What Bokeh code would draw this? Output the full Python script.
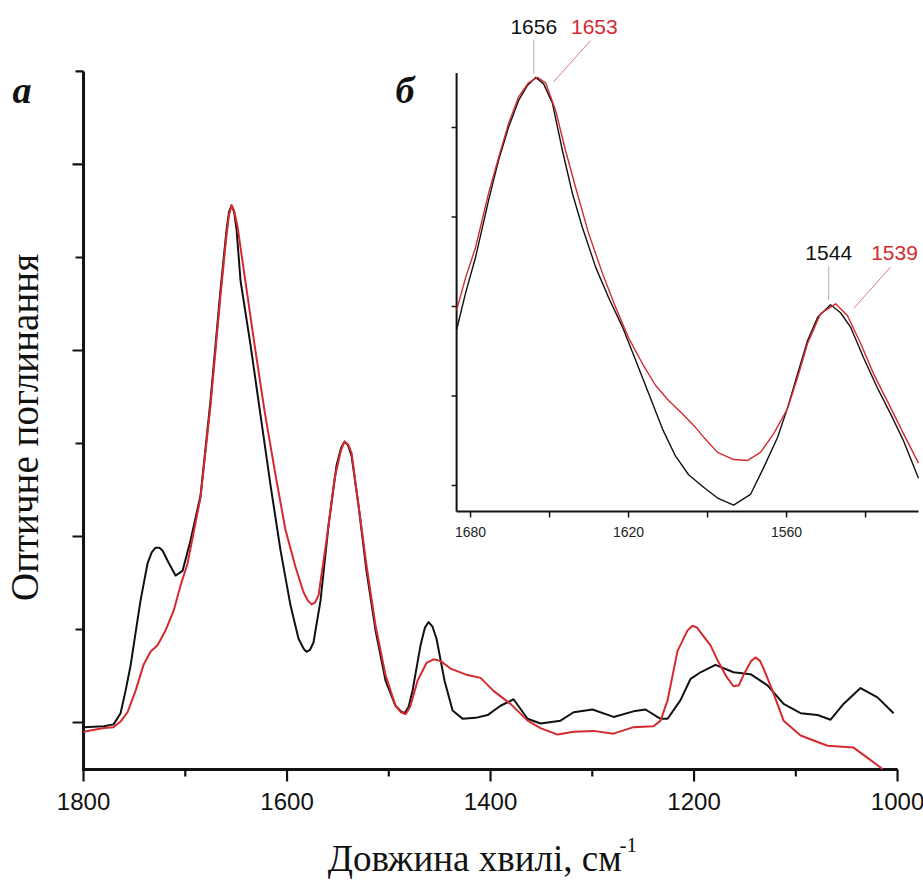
import math
from bokeh.plotting import figure
from bokeh.models import Range1d
from bokeh.core.properties import value
from bokeh.embed import file_html
from bokeh.resources import INLINE

# ---------------- main spectra (a) ----------------
wn_black = [1800, 1780, 1770.5, 1763.6, 1758.7, 1753.8, 1748.9, 1744, 1737.1, 1733, 1729.2,
            1725.5, 1722.4, 1716.5, 1709.6, 1702.7, 1694.8, 1685, 1675.2, 1665.4, 1659.5, 1657,
            1654.5, 1652, 1649.6, 1645.7, 1635.9, 1626, 1616.2, 1606.4, 1596.6, 1588.7, 1583.5,
            1580.8, 1577.5, 1574, 1567.1, 1559.2, 1551.4, 1547, 1543.5, 1540, 1536.6, 1529.7,
            1521.9, 1513, 1503.2, 1493.4, 1488, 1484.5, 1480.5, 1476.7, 1468.8, 1464.5, 1460.9,
            1457, 1453.1, 1445.2, 1437.3, 1427.5, 1414.7, 1402.9, 1390.2, 1377.4, 1363.6, 1350.9,
            1331.2, 1318.4, 1299.8, 1279.1, 1259.5, 1247.7, 1232.9, 1226, 1213.3, 1203.4,
            1193.6, 1178.9, 1161.2, 1144.5, 1127.8, 1112, 1095.3, 1078.6, 1065.8, 1053.1,
            1036.4, 1019.7, 1003.9]
abs_black = [-0.05, -0.04, -0.02, 0.10, 0.34, 0.61, 0.96, 1.31, 1.71, 1.83, 1.88,
             1.88, 1.85, 1.72, 1.58, 1.63, 1.96, 2.44, 3.46, 4.65, 5.29, 5.49,
             5.56, 5.49, 5.30, 4.75, 4.06, 3.30, 2.55, 1.85, 1.26, 0.90, 0.79,
             0.76, 0.78, 0.86, 1.31, 2.12, 2.76, 2.95, 3.02, 2.98, 2.87, 2.33,
             1.63, 0.99, 0.45, 0.18, 0.12, 0.10, 0.17, 0.34, 0.83, 1.02, 1.08,
             1.03, 0.90, 0.45, 0.13, 0.04, 0.05, 0.08, 0.18, 0.25, 0.04, -0.01,
             0.02, 0.11, 0.14, 0.06, 0.12, 0.14, 0.04, 0.04, 0.24, 0.47,
             0.54, 0.62, 0.54, 0.52, 0.40, 0.20, 0.10, 0.08, 0.03, 0.20,
             0.37, 0.27, 0.10]

wn_red = [1800, 1780, 1770.5, 1763.6, 1756.8, 1748.9, 1741, 1734.2, 1727.3, 1719.4,
          1711.5, 1704.7, 1697.8, 1689.9, 1685, 1675.2, 1665.4, 1659.5, 1657, 1654.5, 1652,
          1648.6, 1641.8, 1631.9, 1622.1, 1611.3, 1601.5, 1591.6, 1583.8, 1579.5, 1575.9,
          1572.5, 1569, 1561.2, 1553.3, 1547, 1543.5, 1540, 1536.6, 1529.7, 1521.9, 1513,
          1503.2, 1493.4, 1488, 1483.5, 1479, 1471.7, 1463, 1456, 1449, 1439.3, 1422.6,
          1409.8, 1397.1, 1380.4, 1363.6, 1350.9, 1334.1, 1318.4, 1298.8, 1279.1, 1259.5,
          1239.8, 1232.9, 1226, 1216.2, 1206.4, 1201.5, 1197, 1193.6, 1183.8, 1176.9, 1168,
          1161.2, 1156, 1151.4, 1144, 1139.6, 1135, 1131.7, 1122.8, 1112, 1095.3,
          1068.8, 1043.2, 1029.5, 1014.7]
abs_red = [-0.10, -0.06, -0.05, 0.01, 0.11, 0.34, 0.62, 0.76, 0.83, 0.99,
           1.20, 1.47, 1.71, 2.15, 2.42, 3.41, 4.59, 5.24, 5.46, 5.56, 5.50,
           5.33, 4.81, 4.06, 3.35, 2.66, 2.07, 1.67, 1.40, 1.31, 1.27,
           1.29, 1.37, 1.96, 2.62, 2.93, 3.02, 2.99, 2.90, 2.33, 1.69, 1.04,
           0.51, 0.18, 0.11, 0.09, 0.17, 0.45, 0.64, 0.68, 0.66, 0.58, 0.51,
           0.48, 0.34, 0.20, 0.02, -0.06, -0.13, -0.10, -0.09, -0.12, -0.05,
           -0.04, 0.02, 0.24, 0.77, 0.99, 1.04, 1.02, 0.97, 0.83, 0.67, 0.49,
           0.39, 0.40, 0.51, 0.66, 0.70, 0.66, 0.58, 0.34, 0.02, -0.14,
           -0.25, -0.27, -0.38, -0.50]

x_ticks = [1800, 1600, 1400, 1200, 1000]
x_tick_labels = ["1800", "1600", "1400", "1200", "1000"]
x_minor = [1700, 1500, 1300, 1100]
y_ticks = [0, 2, 4, 6]
y_minor = [1, 3, 5, 7]
x_lim = (1800, 1000)
y_lim = (-0.505, 7.0)
x_title = "Довжина хвилі, см"
x_title_sup = "-1"
y_title = "Оптичне поглинання"

# ---------------- inset (б) ----------------
ins_wn_black = [1685.3, 1681.9, 1678.1, 1673.2, 1669.4, 1665.6, 1661.8, 1658.4, 1655.3, 1652.3,
                1648.9, 1645.1, 1641.3, 1637.5, 1632.5, 1627.6, 1622.3, 1617.3, 1612.4, 1607.1,
                1602.2, 1597.2, 1591.5, 1586.2, 1580.1, 1573.7, 1568.7, 1563.4, 1559.6, 1555.8,
                1552, 1548.2, 1543.3, 1539.5, 1535.7, 1530.8, 1525.5, 1520.5, 1515.6, 1509.9]
ins_black = [1.74, 2.15, 2.55, 3.18, 3.63, 4.00, 4.30, 4.47, 4.56, 4.49,
             4.27, 3.74, 3.26, 2.88, 2.44, 2.10, 1.77, 1.40, 1.03, 0.63,
             0.33, 0.12, -0.02, -0.14, -0.22, -0.10, 0.20, 0.54, 0.87, 1.25,
             1.62, 1.88, 2.02, 1.93, 1.77, 1.43, 1.09, 0.80, 0.50, 0.08]
ins_wn_red = [1685.3, 1681.9, 1678.1, 1673.2, 1669.4, 1665.6, 1661.8, 1658, 1654.6, 1651.5,
              1647.7, 1643.9, 1640.1, 1635.2, 1629.9, 1624.9, 1620, 1614.7, 1609.8, 1604.8,
              1599.5, 1594.6, 1591.5, 1586.2, 1580.1, 1574.8, 1569.9, 1564.9, 1559.6, 1555.8,
              1552, 1547.1, 1541.4, 1536.9, 1531.9, 1527, 1520.5, 1515.6, 1509.9]
ins_red = [1.96, 2.32, 2.66, 3.26, 3.66, 4.04, 4.34, 4.50, 4.56, 4.50,
           4.19, 3.74, 3.33, 2.82, 2.37, 1.99, 1.65, 1.36, 1.12, 0.95,
           0.80, 0.65, 0.54, 0.37, 0.29, 0.28, 0.37, 0.58, 0.86, 1.21,
           1.59, 1.92, 2.03, 1.90, 1.59, 1.25, 0.87, 0.58, 0.25]
ins_x_ticks = [1680, 1650, 1620, 1590, 1560, 1530]
ins_x_label_ticks = [1680, 1620, 1560]
ins_x_labels = ["1680", "1620", "1560"]
ins_y_ticks = [0, 1, 2, 3, 4]
ins_xlim = (1685.3, 1509.9)
ins_ylim = (-0.29, 4.61)
peaks_black = [1656, 1544]
peaks_red = [1653, 1539]
peak_heights = [4.56, 2.03]
panel_letters = ["а", "б"]

BLACK = "#111111"
RED = "#d42a2f"

# pixel scale helpers (layout only)
MX = 800 / 814          # main: wavenumber per pixel
MY = 1 / 93             # main: absorbance unit per pixel
IX = 60 / 158           # inset: wavenumber per pixel
IY = 1 / 89.5           # inset: unit per pixel

p = figure(width=923, height=883, output_backend="svg", toolbar_location=None,
           x_range=Range1d(1881.6, 974.5), y_range=Range1d(-1.731, 7.763),
           x_axis_location=None, y_axis_location=None,
           min_border_left=0, min_border_right=0, min_border_top=0, min_border_bottom=0,
           background_fill_color="white", border_fill_color="white")
p.outline_line_color = None
p.grid.visible = False
p.extra_x_ranges = {"ix": Range1d(1858.5, 1508.0)}
p.extra_y_ranges = {"iy": Range1d(-4.447, 5.419)}

# ---- main axes ----
x0, x1 = x_lim
y0, y1 = y_lim
p.segment(x0=[x0 + 1.5 * MX, x0], y0=[y0, y0 - 1.5 * MY], x1=[x1, x0], y1=[y0, y1],
          line_color=BLACK, line_width=3)
p.segment(x0=x_ticks, y0=[y0] * len(x_ticks), x1=x_ticks, y1=[y0 - 12 * MY] * len(x_ticks),
          line_color=BLACK, line_width=2.2)
p.segment(x0=x_minor, y0=[y0] * len(x_minor), x1=x_minor, y1=[y0 - 7 * MY] * len(x_minor),
          line_color=BLACK, line_width=2.2)
p.segment(x0=[x0] * len(y_ticks), y0=y_ticks, x1=[x0 + 11 * MX] * len(y_ticks), y1=y_ticks,
          line_color=BLACK, line_width=2.2)
p.segment(x0=[x0] * len(y_minor), y0=y_minor, x1=[x0 + 8 * MX] * len(y_minor), y1=y_minor,
          line_color=BLACK, line_width=2.2)
p.text(x=x_ticks, y=[y0] * len(x_ticks), text=x_tick_labels, y_offset=32,
       text_align="center", text_baseline="middle", text_color=BLACK,
       text_font=value("Liberation Sans"), text_font_size="24px")
p.text(x=[x0 - 538 * MX], y=[y0 - 89 * MY], text=[x_title],
       text_align="right", text_baseline="middle", text_color=BLACK,
       text_font=value("Liberation Serif"), text_font_size="37px")
p.text(x=[x0 - 536 * MX], y=[y0 - 76 * MY], text=[x_title_sup],
       text_align="left", text_baseline="middle", text_color=BLACK,
       text_font=value("Liberation Serif"), text_font_size="21px")
p.text(x=[x0 + 59 * MX], y=[(y0 + y1) / 2 - 0.075], text=[y_title], angle=math.pi / 2,
       text_align="center", text_baseline="middle", text_color=BLACK,
       text_font=value("Liberation Serif"), text_font_size="39px")

# ---- main curves ----
p.line(wn_black, abs_black, line_color=BLACK, line_width=2, line_join="round")
p.line(wn_red, abs_red, line_color=RED, line_width=2, line_join="round")

# ---- inset axes ----
ix0, ix1 = ins_xlim
iy0, iy1 = ins_ylim
p.segment(x0=[ix0, ix0], y0=[iy0, iy0], x1=[ix0, ix1], y1=[iy1, iy0],
          line_color=BLACK, line_width=2, x_range_name="ix", y_range_name="iy")
p.segment(x0=ins_x_ticks, y0=[iy0] * len(ins_x_ticks),
          x1=ins_x_ticks, y1=[iy0 - 6 * IY] * len(ins_x_ticks),
          line_color=BLACK, line_width=1.5, x_range_name="ix", y_range_name="iy")
p.segment(x0=[ix0] * len(ins_y_ticks), y0=ins_y_ticks,
          x1=[ix0 + 5 * IX] * len(ins_y_ticks), y1=ins_y_ticks,
          line_color=BLACK, line_width=1.5, x_range_name="ix", y_range_name="iy")
p.text(x=ins_x_label_ticks, y=[iy0] * len(ins_x_label_ticks), text=ins_x_labels,
       x_range_name="ix", y_range_name="iy", y_offset=21,
       text_align="center", text_baseline="middle", text_color="#222222",
       text_font=value("Liberation Sans"), text_font_size="14px")

# ---- inset curves ----
p.line(ins_wn_black, ins_black, line_color=BLACK, line_width=1.4, line_join="round",
       x_range_name="ix", y_range_name="iy")
p.line(ins_wn_red, ins_red, line_color=RED, line_width=1.4, line_join="round",
       x_range_name="ix", y_range_name="iy")

# ---- peak annotations ----
p.segment(x0=peaks_black, y0=[h + 0.04 for h in peak_heights],
          x1=peaks_black, y1=[h + 0.42 for h in peak_heights],
          line_color="#b0b0b0", line_width=1, x_range_name="ix", y_range_name="iy")
p.segment(x0=[pk - 4.5 for pk in peaks_red], y0=[h - 0.05 for h in peak_heights],
          x1=[pk - 18.5 for pk in peaks_red], y1=[h + 0.41 for h in peak_heights],
          line_color="#e07a7e", line_width=1, x_range_name="ix", y_range_name="iy")
p.text(x=peaks_black, y=[h + 0.565 for h in peak_heights], text=[str(v) for v in peaks_black],
       x_range_name="ix", y_range_name="iy", text_align="center", text_baseline="middle",
       text_color=BLACK, text_font=value("Liberation Sans"), text_font_size="21px")
p.text(x=[pk - 20 for pk in peaks_red], y=[h + 0.565 for h in peak_heights],
       text=[str(v) for v in peaks_red],
       x_range_name="ix", y_range_name="iy", text_align="center", text_baseline="middle",
       text_color=RED, text_font=value("Liberation Sans"), text_font_size="21px")

# ---- panel letters ----
p.text(x=[x0 + 71 * MX, x0 - 312 * MX], y=[y1 - 0.2, y1 - 0.2], text=panel_letters,
       text_align="left", text_baseline="middle", text_color=BLACK,
       text_font=value("Liberation Serif"), text_font_style="bold italic",
       text_font_size="38px")

open("out.html", "w").write(file_html(p, INLINE))
